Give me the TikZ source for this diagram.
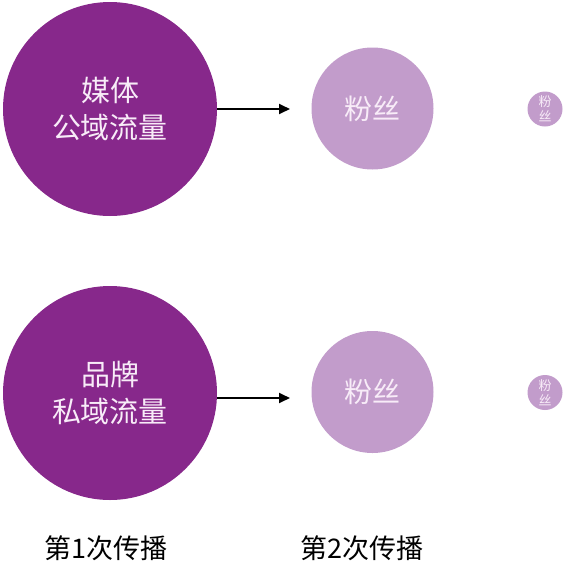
\documentclass[tikz,border=0pt]{standalone}
\usepackage{fontspec}
\setmainfont{Noto Sans CJK SC}
\usetikzlibrary{arrows.meta}
\definecolor{deeppurple}{HTML}{87288B}
\definecolor{lightpurple}{HTML}{C29CCB}
\definecolor{softwhite}{HTML}{F8ECF8}
\tikzset{
  bigcircle/.style={circle,fill=deeppurple,minimum size=214pt,inner sep=0pt,text=softwhite,align=center,font=\fontsize{29}{37}\selectfont},
  midcircle/.style={circle,fill=lightpurple,minimum size=122pt,inner sep=0pt,text=softwhite,font=\fontsize{28}{34}\selectfont},
  smallcircle/.style={circle,fill=lightpurple,minimum size=35pt,inner sep=0pt,text=softwhite,align=center,font=\fontsize{13}{15}\selectfont},
  flow/.style={line width=1.8pt,-{Triangle[length=11pt,width=10pt]}},
  steplabel/.style={font=\fontsize{27}{32}\selectfont,text=black}
}
\begin{document}
\begin{tikzpicture}[x=1pt,y=-1pt]
\useasboundingbox (0,0) rectangle (565,587);
\node[bigcircle] (b1) at (110,109) {媒体\\公域流量};
\node[bigcircle] (b2) at (110,393) {品牌\\私域流量};
\node[midcircle] (m1) at (372.5,108.5) {粉丝};
\node[midcircle] (m2) at (372.5,392) {粉丝};
\node[smallcircle] (s1) at (545,109) {粉\\丝};
\node[smallcircle] (s2) at (545,392.5) {粉\\丝};
\coordinate (e1) at (290,109);
\coordinate (e2) at (290,398);
\draw[flow] (b1.east) -- (e1);
\draw[flow] ([yshift=-5pt]b2.east) -- (e2);
\node[steplabel] (l1) at (106,548) {第1次传播};
\node[steplabel] (l2) at (362,548) {第2次传播};
\end{tikzpicture}
\end{document}
